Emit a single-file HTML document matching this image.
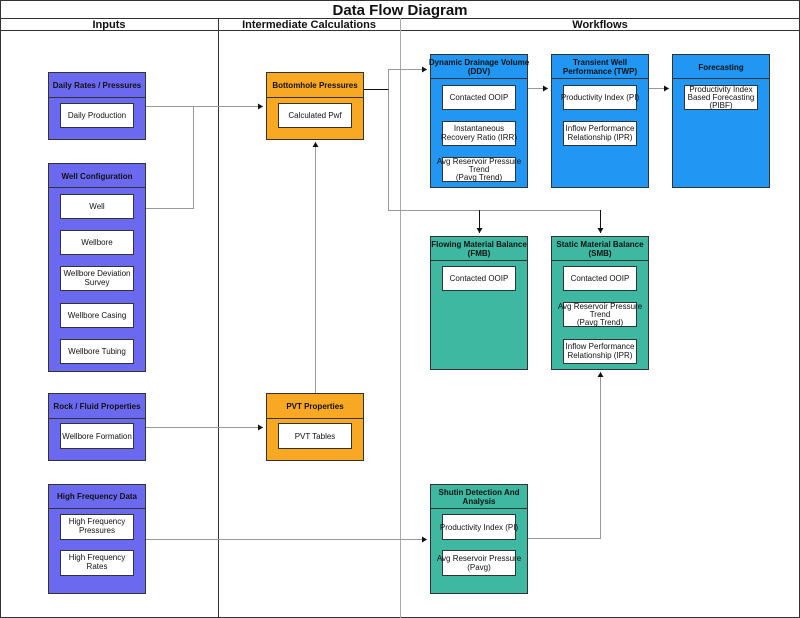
<!DOCTYPE html>
<html><head><meta charset="utf-8"><style>
html,body{margin:0;padding:0;background:#fff}
svg{display:block}
text{font-family:"Liberation Sans",Arial,sans-serif;fill:#111}
.h{font-weight:bold;font-size:8px}
.b{font-size:8px}
</style></head><body>
<svg width="800" height="618" viewBox="0 0 800 618" xmlns="http://www.w3.org/2000/svg">
<defs><marker id="a" markerWidth="5" markerHeight="6" refX="5" refY="3" orient="auto" markerUnits="userSpaceOnUse"><path d="M0,0 L5,3 L0,6 Z" fill="#111"/></marker></defs>
<rect x="0.5" y="0.5" width="799" height="617" fill="#fff" stroke="#333"/>
<line x1="0" y1="18.5" x2="800" y2="18.5" stroke="#333"/>
<line x1="0" y1="30.5" x2="800" y2="30.5" stroke="#333"/>
<line x1="218.5" y1="18" x2="218.5" y2="618" stroke="#333"/>
<line x1="400.5" y1="18" x2="400.5" y2="618" stroke="#aaa"/>
<text x="400" y="15" text-anchor="middle" font-weight="bold" font-size="15">Data Flow Diagram</text>
<text x="109" y="28" text-anchor="middle" font-weight="bold" font-size="11">Inputs</text>
<text x="309" y="28" text-anchor="middle" font-weight="bold" font-size="11">Intermediate Calculations</text>
<text x="600" y="28" text-anchor="middle" font-weight="bold" font-size="11">Workflows</text>

<g fill="none" stroke="#999" stroke-width="1">
<path d="M145,106.5 H263" marker-end="url(#a)"/>
<path d="M133,208.5 H193.5 V106.5"/>
<path d="M388.5,69 V210.5"/>
<path d="M388,69.5 H427" marker-end="url(#a)"/>
<path d="M388,210.5 H600.5"/>
<path d="M527,88.5 H548" marker-end="url(#a)"/>
<path d="M648,88.5 H669" marker-end="url(#a)"/>
<path d="M315.5,393 V142" marker-end="url(#a)"/>
<path d="M145,427.5 H263" marker-end="url(#a)"/>
<path d="M145,539.5 H427" marker-end="url(#a)"/>
<path d="M527,538.5 H600.5 V372" marker-end="url(#a)"/>
</g>
<g fill="none" stroke="#111">
<path d="M363,89.5 H388.5"/>
<path d="M479.5,210 V233" marker-end="url(#a)"/>
<path d="M600.5,210 V233" marker-end="url(#a)"/>
</g>

<g stroke="#333" stroke-width="1">
<rect x="48.5" y="72.5" width="97" height="67" fill="#6b69f0"/><line x1="48" y1="97.5" x2="145" y2="97.5"/>
<rect x="48.5" y="163.5" width="97" height="208" fill="#6b69f0"/><line x1="48" y1="187.5" x2="145" y2="187.5"/>
<rect x="48.5" y="393.5" width="97" height="67" fill="#6b69f0"/><line x1="48" y1="418.5" x2="145" y2="418.5"/>
<rect x="48.5" y="484.5" width="97" height="109" fill="#6b69f0"/><line x1="48" y1="508.5" x2="145" y2="508.5"/>
<rect x="266.5" y="72.5" width="97" height="67" fill="#f8a823"/><line x1="266" y1="97.5" x2="363" y2="97.5"/>
<rect x="266.5" y="393.5" width="97" height="67" fill="#f8a823"/><line x1="266" y1="418.5" x2="363" y2="418.5"/>
<rect x="430.5" y="54.5" width="97" height="133" fill="#2196f3"/><line x1="430" y1="78.5" x2="527" y2="78.5"/>
<rect x="551.5" y="54.5" width="97" height="133" fill="#2196f3"/><line x1="551" y1="78.5" x2="648" y2="78.5"/>
<rect x="672.5" y="54.5" width="97" height="133" fill="#2196f3"/><line x1="672" y1="78.5" x2="769" y2="78.5"/>
<rect x="430.5" y="236.5" width="97" height="133" fill="#3fb8a2"/><line x1="430" y1="260.5" x2="527" y2="260.5"/>
<rect x="551.5" y="236.5" width="97" height="133" fill="#3fb8a2"/><line x1="551" y1="260.5" x2="648" y2="260.5"/>
<rect x="430.5" y="484.5" width="97" height="109" fill="#3fb8a2"/><line x1="430" y1="508.5" x2="527" y2="508.5"/>
</g>
<g fill="#fff" stroke="#333">
<rect x="60.5" y="103.5" width="73" height="24"/>
<rect x="60.5" y="194.5" width="73" height="24"/>
<rect x="60.5" y="230.5" width="73" height="24"/>
<rect x="60.5" y="266.5" width="73" height="24"/>
<rect x="60.5" y="303.5" width="73" height="24"/>
<rect x="60.5" y="339.5" width="73" height="24"/>
<rect x="60.5" y="423.5" width="73" height="25"/>
<rect x="60.5" y="514.5" width="73" height="25"/>
<rect x="60.5" y="550.5" width="73" height="25"/>
<rect x="278.5" y="103.5" width="73" height="24"/>
<rect x="278.5" y="423.5" width="73" height="25"/>
<rect x="442.5" y="85.5" width="73" height="24"/>
<rect x="442.5" y="121.5" width="73" height="24"/>
<rect x="442.5" y="157.5" width="73" height="24"/>
<rect x="563.5" y="85.5" width="73" height="24"/>
<rect x="563.5" y="121.5" width="73" height="24"/>
<rect x="684.5" y="85.5" width="73" height="24"/>
<rect x="442.5" y="266.5" width="73" height="24"/>
<rect x="563.5" y="266.5" width="73" height="24"/>
<rect x="563.5" y="302.5" width="73" height="24"/>
<rect x="563.5" y="339.5" width="73" height="24"/>
<rect x="442.5" y="514.5" width="73" height="25"/>
<rect x="442.5" y="550.5" width="73" height="25"/>
</g>

<g text-anchor="middle">
<text class="h" x="97" y="88">Daily Rates / Pressures</text>
<text class="h" x="97" y="179">Well Configuration</text>
<text class="h" x="97" y="409">Rock / Fluid Properties</text>
<text class="h" x="97" y="499">High Frequency Data</text>
<text class="h" x="315" y="88">Bottomhole Pressures</text>
<text class="h" x="315" y="409">PVT Properties</text>
<text class="h" x="479" y="65">Dynamic Drainage Volume</text><text class="h" x="479" y="74">(DDV)</text>
<text class="h" x="600" y="65">Transient Well</text><text class="h" x="600" y="74">Performance (TWP)</text>
<text class="h" x="721" y="70">Forecasting</text>
<text class="h" x="479" y="247">Flowing Material Balance</text><text class="h" x="479" y="256">(FMB)</text>
<text class="h" x="600" y="247">Static Material Balance</text><text class="h" x="600" y="256">(SMB)</text>
<text class="h" x="479" y="495">Shutin Detection And</text><text class="h" x="479" y="504">Analysis</text>

<text class="b" x="97" y="118">Daily Production</text>
<text class="b" x="97" y="209">Well</text>
<text class="b" x="97" y="245" font-size="7">Wellbore</text>
<text class="b" x="97" y="276">Wellbore Deviation</text><text class="b" x="97" y="285">Survey</text>
<text class="b" x="97" y="318">Wellbore Casing</text>
<text class="b" x="97" y="354">Wellbore Tubing</text>
<text class="b" x="97" y="439">Wellbore Formation</text>
<text class="b" x="97" y="524">High Frequency</text><text class="b" x="97" y="533">Pressures</text>
<text class="b" x="97" y="560">High Frequency</text><text class="b" x="97" y="569">Rates</text>
<text class="b" x="315" y="118">Calculated Pwf</text>
<text class="b" x="315" y="439">PVT Tables</text>
<text class="b" x="479" y="100">Contacted OOIP</text>
<text class="b" x="479" y="131">Instantaneous</text><text class="b" x="479" y="140">Recovery Ratio (IRR)</text>
<text class="b" x="479" y="164" font-size="6.3">Avg Reservoir Pressure</text><text class="b" x="479" y="172" font-size="6.3">Trend</text><text class="b" x="479" y="180" font-size="6.3">(Pavg Trend)</text>
<text class="b" x="600" y="100">Productivity Index (PI)</text>
<text class="b" x="600" y="131">Inflow Performance</text><text class="b" x="600" y="140">Relationship (IPR)</text>
<text class="b" x="721" y="92" font-size="6.3">Productivity Index</text><text class="b" x="721" y="100" font-size="6.3">Based Forecasting</text><text class="b" x="721" y="108" font-size="6.3">(PIBF)</text>
<text class="b" x="479" y="281">Contacted OOIP</text>
<text class="b" x="600" y="281">Contacted OOIP</text>
<text class="b" x="600" y="309" font-size="6.3">Avg Reservoir Pressure</text><text class="b" x="600" y="317" font-size="6.3">Trend</text><text class="b" x="600" y="325" font-size="6.3">(Pavg Trend)</text>
<text class="b" x="600" y="349">Inflow Performance</text><text class="b" x="600" y="358">Relationship (IPR)</text>
<text class="b" x="479" y="530">Productivity Index (PI)</text>
<text class="b" x="479" y="561" font-size="6.8">Avg Reservoir Pressure</text><text class="b" x="479" y="570" font-size="6.8">(Pavg)</text>
</g>
</svg>
</body></html>
